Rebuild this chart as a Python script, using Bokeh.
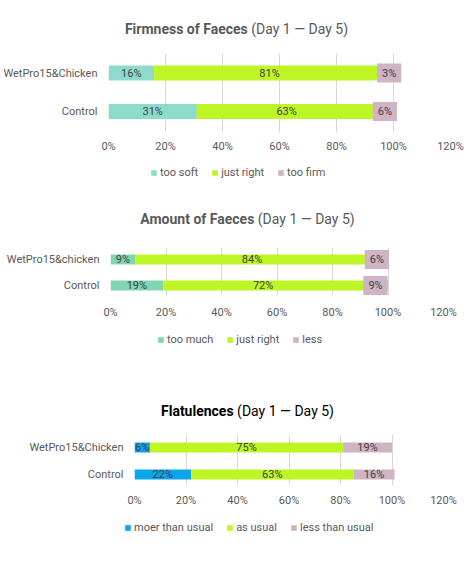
from bokeh.plotting import figure
from bokeh.models import (ColumnDataSource, Range1d, Legend, LegendItem, Div,
                          FixedTicker, PrintfTickFormatter)
from bokeh.embed import file_html
from bokeh.resources import INLINE
from bokeh.core.properties import value

# ---------------- data ----------------
firm_groups = ["Control", "WetPro15&Chicken"]
firm_too_soft = [31, 16]
firm_just_right = [63, 81]
firm_too_firm = [6, 3]
firm_names = ["too soft", "just right", "too firm"]

amount_groups = ["Control", "WetPro15&chicken"]
amount_too_much = [19, 9]
amount_just_right = [72, 84]
amount_less = [9, 6]
amount_names = ["too much", "just right", "less"]

flat_groups = ["Control", "WetPro15&Chicken"]
flat_more = [22, 6]
flat_as_usual = [63, 75]
flat_less = [16, 19]
flat_names = ["moer than usual", "as usual", "less than usual"]

x_ticks = [0, 20, 40, 60, 80, 100, 120]

FONT = "Roboto"
GREY = "#595959"
LABEL = "#404040"
LIME = "#BEF524"
PINK = "#CEB4C5"
W = 475


def title_div(bold, rest, color, height, pad_top, shift):
    html = ('<div style="width:%dpx;height:%dpx;box-sizing:border-box;padding-top:%dpx;'
            'text-align:center;font-family:Roboto;font-size:14px;line-height:16px;'
            'color:%s;white-space:nowrap;position:relative;left:%dpx;">'
            '<b>%s</b> %s</div>') % (W, height, pad_top, color, shift, bold, rest)
    return Div(text=html, width=W, height=height, margin=(0, 0, 0, 0))


def chart(groups, series, colors, fig_h, frame_l, frame_r, frame_h,
          y_lo, y_hi, bar_h, box_last, ylab_standoff, xlab_standoff):
    p = figure(width=W, height=fig_h, output_backend="svg", toolbar_location=None,
               x_range=Range1d(0, 120), y_range=Range1d(y_lo, y_hi),
               min_border_left=frame_l, min_border_right=W - frame_r,
               min_border_top=0, min_border_bottom=fig_h - frame_h,
               margin=(0, 0, 0, 0))
    p.outline_line_color = None
    p.ygrid.visible = False
    p.xgrid.grid_line_color = "#D9D9D9"
    p.xgrid.grid_line_width = 1

    ys = [i + 0.5 for i in range(len(groups))]
    keys = ["s%d" % k for k in range(len(series))]
    data = dict(y=ys)
    for k, s in zip(keys, series):
        data[k] = s
    src = ColumnDataSource(data)
    p.hbar_stack(keys, y="y", height=bar_h, color=colors, source=src, line_color=None)

    cum = [0] * len(groups)
    for idx, s in enumerate(series):
        xs = [c + v / 2 for c, v in zip(cum, s)]
        txt = ["%d%%" % v for v in s]
        cum = [c + v for c, v in zip(cum, s)]
        lsrc = ColumnDataSource(dict(x=xs, y=ys, t=txt))
        kw = {}
        if box_last and idx == len(series) - 1:
            kw = dict(background_fill_color=colors[idx], padding=(5, 3))
        p.text(x="x", y="y", text="t", source=lsrc, text_align="center",
               text_baseline="middle", text_font_size="11px", text_color=LABEL,
               text_font=value(FONT), **kw)

    xa = p.xaxis[0]
    xa.ticker = FixedTicker(ticks=x_ticks)
    xa.formatter = PrintfTickFormatter(format="%d%%")
    xa.axis_line_color = None
    xa.major_tick_line_color = None
    xa.minor_tick_line_color = None
    xa.major_tick_out = 0
    xa.major_tick_in = 0
    xa.minor_tick_out = 0
    xa.major_label_standoff = xlab_standoff
    xa.major_label_text_font = FONT
    xa.major_label_text_font_size = "11px"
    xa.major_label_text_color = GREY

    ya = p.yaxis[0]
    ya.ticker = FixedTicker(ticks=ys)
    ya.major_label_overrides = {y: g for y, g in zip(ys, groups)}
    ya.axis_line_color = None
    ya.major_tick_line_color = None
    ya.minor_tick_line_color = None
    ya.major_tick_out = 0
    ya.major_tick_in = 0
    ya.minor_tick_out = 0
    ya.major_label_standoff = ylab_standoff
    ya.major_label_text_font = FONT
    ya.major_label_text_font_size = "11px"
    ya.major_label_text_color = GREY
    return p, src, keys


def legend_fig(names, colors, src, keys, fig_h, leg_xy):
    # separate strip holding the legend; its proxy renderers lie outside the view
    p = figure(width=W, height=fig_h, output_backend="svg", toolbar_location=None,
               x_range=Range1d(-300, -200), y_range=Range1d(0, 2),
               x_axis_type=None, y_axis_type=None,
               min_border_left=0, min_border_right=0, min_border_top=0,
               min_border_bottom=0, margin=(0, 0, 0, 0))
    p.outline_line_color = None
    p.grid.visible = False
    rends = [p.hbar(y="y", right=k, height=0.4, color=c, line_color=None, source=src)
             for k, c in zip(keys, colors)]
    legend = Legend(items=[LegendItem(label=n, renderers=[r]) for n, r in zip(names, rends)],
                    orientation="horizontal", location=leg_xy,
                    border_line_color=None, background_fill_alpha=0,
                    padding=0, margin=0, spacing=13, label_standoff=3,
                    glyph_width=7, glyph_height=7, label_height=12,
                    label_text_font=FONT, label_text_font_size="11px",
                    label_text_color=GREY)
    p.add_layout(legend, "center")
    return p


c1 = ["#8FDBCB", LIME, PINK]
d1 = title_div("Firmness of Faeces", "(Day 1 \u2014 Day 5)", GREY, 53, 21, -1)
p1, s1, k1 = chart(firm_groups, [firm_too_soft, firm_just_right, firm_too_firm],
                   c1, fig_h=107, frame_l=107, frame_r=450, frame_h=79,
                   y_lo=-0.045, y_hi=2.007, bar_h=0.39, box_last=True,
                   ylab_standoff=11, xlab_standoff=7)
l1 = legend_fig(firm_names, c1, s1, k1, 30, (150, 11))

c2 = ["#80D6B0", LIME, PINK]
d2 = title_div("Amount of Faeces", "(Day 1 \u2014 Day 5)", GREY, 57, 21, 10)
p2, s2, k2 = chart(amount_groups, [amount_too_much, amount_just_right, amount_less],
                   c2, fig_h=78, frame_l=110, frame_r=443, frame_h=48,
                   y_lo=0.115, y_hi=1.961, bar_h=0.385, box_last=True,
                   ylab_standoff=11, xlab_standoff=10)
l2 = legend_fig(amount_names, c2, s2, k2, 40, (157, 19))

c3 = ["#0AA5EB", LIME, PINK]
d3 = title_div("Flatulences", "(Day 1 \u2014 Day 5)", "#000000", 69, 38, 10)
p3, s3, k3 = chart(flat_groups, [flat_more, flat_as_usual, flat_less],
                   c3, fig_h=81, frame_l=134, frame_r=443, frame_h=51,
                   y_lo=0.093, y_hi=1.982, bar_h=0.37, box_last=False,
                   ylab_standoff=11, xlab_standoff=8)
l3 = legend_fig(flat_names, c3, s3, k3, 48, (124, 29))

roots = [d1, p1, l1, d2, p2, l2, d3, p3, l3]
open("out.html", "w").write(file_html(roots, INLINE))
